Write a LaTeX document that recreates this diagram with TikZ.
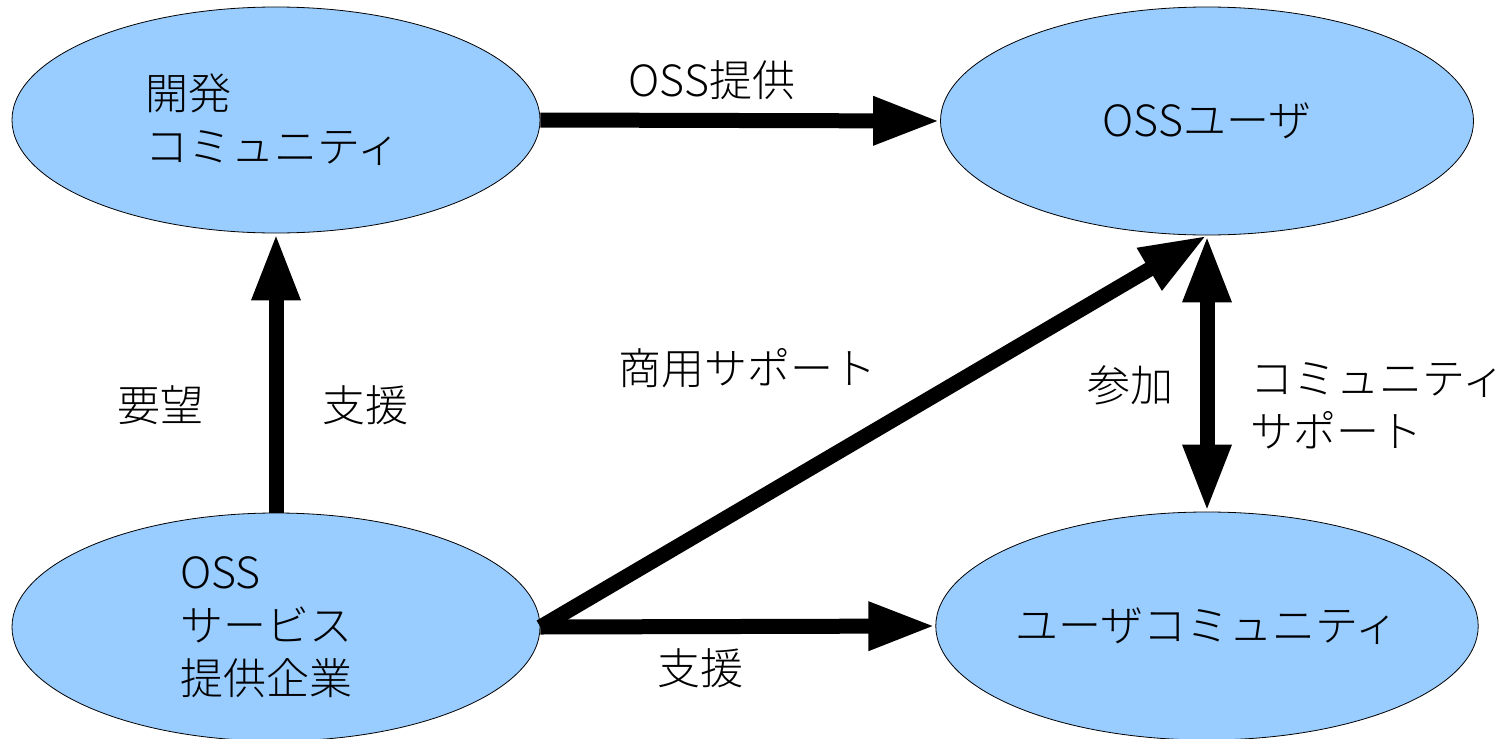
\documentclass[tikz,border=0pt]{standalone}
\usepackage{fontspec}
\setmainfont{Noto Sans CJK JP}[UprightFont=* Light]
\usetikzlibrary{shapes.geometric,arrows.meta}
\definecolor{ellfill}{HTML}{99CCFF}
\begin{document}
\begin{tikzpicture}[x=1pt,y=-1pt,
  ell/.style={ellipse,draw=black,line width=0.8pt,fill=ellfill,inner sep=0pt,align=left,
    font=\fontsize{43}{53}\selectfont},
  lbl/.style={inner sep=0pt,align=left,font=\fontsize{43}{53}\selectfont},
  conn/.style={line width=15pt,-{Triangle[length=67pt,width=45pt]}},
  conn2/.style={line width=15pt,{Triangle[length=67pt,width=45pt]}-{Triangle[length=67pt,width=45pt]}}]
\useasboundingbox[fill=white] (0,0) rectangle (1505,739);
\node[ell,minimum width=528pt,minimum height=226pt,text width=262pt] (tl) at (276,120) {開発\\コミュニティ};
\node[ell,minimum width=533pt,minimum height=228pt] (tr) at (1207,121) {OSSユーザ};
\node[ell,minimum width=528pt,minimum height=228pt,text width=192pt] (bl) at (276,627) {OSS\\サービス\\提供企業};
\node[ell,minimum width=533pt,minimum height=228pt] (br) at (1207,626) {ユーザコミュニティ};
\draw[conn] (tl.east) -- (tr.west);
\draw[conn] (bl.north) -- (tl.south);
\draw[conn] (bl.east) -- (tr.south);
\draw[conn] (bl.east) -- (br.west);
\draw[conn2] (tr.south) -- (br.north);
\node[lbl] (l1) at (712,80) {OSS提供};
\node[lbl] (l2) at (160,405) {要望};
\node[lbl] (l3) at (365,405) {支援};
\node[lbl] (l4) at (747,368) {商用サポート};
\node[lbl] (l5) at (1130,385) {参加};
\node[lbl,anchor=west] (l6) at (1250,406) {コミュニティ\\サポート};
\node[lbl] (l7) at (700,668) {支援};
\end{tikzpicture}
\end{document}
